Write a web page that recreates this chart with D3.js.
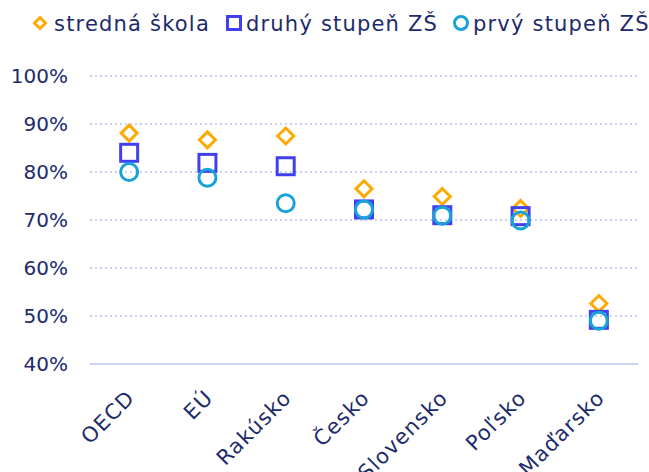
<!DOCTYPE html>
<html>
<head>
<meta charset="utf-8">
<script src="https://cdn.jsdelivr.net/npm/d3@7"></script>
<style>
  body { margin: 0; background: #fff; }
  text { font-family: "DejaVu Sans", sans-serif; fill: #1c2b6b; }
</style>
</head>
<body>
<div id="chart"></div>
<script>
const countries = ["OECD", "EÚ", "Rakúsko", "Česko", "Slovensko", "Poľsko", "Maďarsko"];
const stredna = [88.1, 86.7, 87.5, 76.5, 74.9, 72.4, 52.6];
const druhy = [84.0, 81.9, 81.2, 72.2, 71.0, 70.8, 49.2];
const prvy = [80.0, 78.8, 73.5, 72.2, 70.9, 69.9, 49.0];
const yTicks = [40, 50, 60, 70, 80, 90, 100];

const series = [
    { name: "stredná škola", values: stredna, color: "#ffaa00", shape: "diamond" },
    { name: "druhý stupeň ZŠ", values: druhy, color: "#4040f0", shape: "square" },
    { name: "prvý stupeň ZŠ", values: prvy, color: "#17a3da", shape: "circle" }
];

const W = 649, H = 472;
const margin = { top: 76, right: 11, bottom: 108, left: 90 };
const width = W - margin.left - margin.right,
    height = H - margin.top - margin.bottom;

const svg = d3.select("#chart")
    .append("svg")
    .attr("width", W)
    .attr("height", H);

const g = svg.append("g")
    .attr("transform", `translate(${margin.left},${margin.top})`);

const x = d3.scaleBand()
    .domain(countries)
    .range([0, width]);

const y = d3.scaleLinear()
    .domain([40, 100])
    .range([height, 0]);

// gridlines
g.selectAll(".grid")
    .data(yTicks)
    .join("line")
    .attr("x1", 0)
    .attr("x2", width)
    .attr("y1", d => y(d))
    .attr("y2", d => y(d))
    .attr("stroke", "#c9d3f6")
    .attr("stroke-width", 2)
    .attr("stroke-dasharray", d => d === 40 ? null : "2,3");

// y labels
g.selectAll(".ylab")
    .data(yTicks)
    .join("text")
    .attr("x", -22)
    .attr("y", d => y(d))
    .attr("dy", "0.36em")
    .attr("text-anchor", "end")
    .style("font-size", "20px")
    .text(d => d + "%");

// x labels
g.selectAll(".xlab")
    .data(countries)
    .join("text")
    .attr("transform", d => `translate(${x(d) + x.bandwidth() / 2 + 7},${height + 35}) rotate(-45)`)
    .attr("text-anchor", "end")
    .style("font-size", "21px")
    .style("letter-spacing", "1.2px")
    .text(d => d);

function drawShape(sel, shape, color, cx, cy) {
    if (shape === "diamond") {
        const s = 8;
        sel.append("path")
            .attr("d", `M${cx},${cy - s}L${cx + s},${cy}L${cx},${cy + s}L${cx - s},${cy}Z`)
            .attr("fill", "none").attr("stroke", color).attr("stroke-width", 3);
    } else if (shape === "square") {
        const s = 8.5;
        sel.append("rect")
            .attr("x", cx - s).attr("y", cy - s).attr("width", 2 * s).attr("height", 2 * s)
            .attr("fill", "none").attr("stroke", color).attr("stroke-width", 3);
    } else {
        sel.append("circle")
            .attr("cx", cx).attr("cy", cy).attr("r", 8.5)
            .attr("fill", "none").attr("stroke", color).attr("stroke-width", 3);
    }
}

series.forEach(s => {
    const grp = g.append("g");
    s.values.forEach((v, i) => {
        drawShape(grp, s.shape, s.color, x(countries[i]) + x.bandwidth() / 2, y(v));
    });
});

// legend
const legendX = [40, 234, 461];
const legendOff = [14, 12, 12];
const legend = svg.append("g");
series.forEach((s, i) => {
    const lg = legend.append("g");
    const cx = legendX[i], cy = 23;
    if (s.shape === "diamond") {
        lg.append("path").attr("d", `M${cx},${cy - 5.5}L${cx + 5.5},${cy}L${cx},${cy + 5.5}L${cx - 5.5},${cy}Z`)
            .attr("fill", "none").attr("stroke", s.color).attr("stroke-width", 3);
    } else if (s.shape === "square") {
        lg.append("rect").attr("x", cx - 6.5).attr("y", cy - 6.5).attr("width", 13).attr("height", 13)
            .attr("fill", "none").attr("stroke", s.color).attr("stroke-width", 3);
    } else {
        lg.append("circle").attr("cx", cx).attr("cy", cy).attr("r", 6.5)
            .attr("fill", "none").attr("stroke", s.color).attr("stroke-width", 3);
    }
    lg.append("text")
        .attr("x", cx + legendOff[i])
        .attr("y", cy)
        .attr("dy", "0.36em")
        .style("font-size", "21px")
        .style("letter-spacing", "1.2px")
        .text(s.name);
});
</script>
</body>
</html>
